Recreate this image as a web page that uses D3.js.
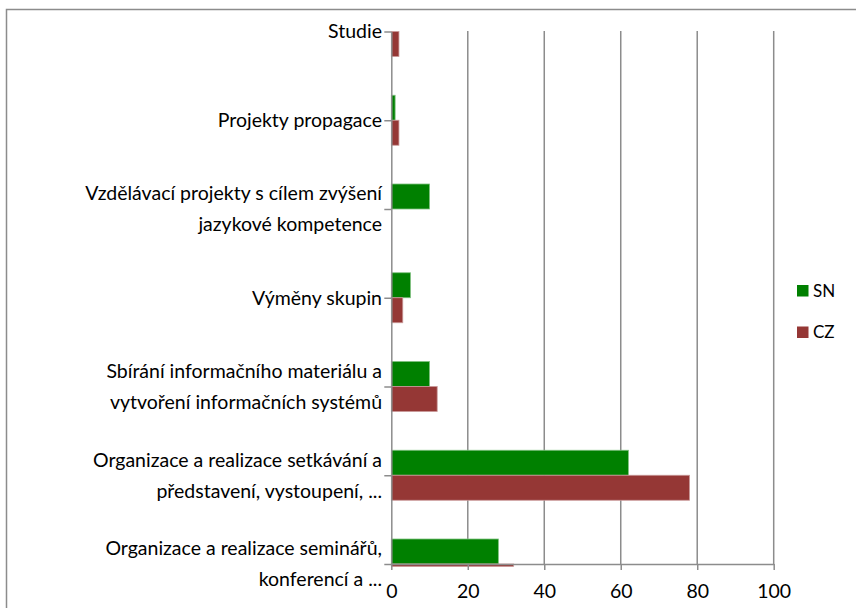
<!DOCTYPE html>
<html>
<head>
<meta charset="utf-8">
<script src="https://cdn.jsdelivr.net/npm/d3@7"></script>
<style>
  html, body { margin: 0; padding: 0; background: #fff; }
  svg { display: block; }
  text { font-family: Lato, "Open Sans", sans-serif; fill: #000; }
</style>
</head>
<body>
<svg id="chart" width="856" height="608"></svg>
<script>
const categories = [
  "Studie",
  "Projekty propagace",
  "Vzdělávací projekty s cílem zvýšení\njazykové kompetence",
  "Výměny skupin",
  "Sbírání informačního materiálu a\nvytvoření informačních systémů",
  "Organizace a realizace setkávání a\npředstavení, vystoupení, ...",
  "Organizace a realizace seminářů,\nkonferencí a ..."
];
const seriesNames = ["SN", "CZ"];
const snValues = [0, 1, 10, 5, 10, 62, 28];
const czValues = [2, 2, 0, 3, 12, 78, 32];
const xTicks = [0, 20, 40, 60, 80, 100];
const colors = ["#008000", "#953735"];
const strokes = ["#7fc07f", "#c99a9a"];

const svg = d3.select("#chart");
const fontSize = 19.5;

// outer frame
svg.append("rect")
  .attr("x", 6.5).attr("y", 9.5)
  .attr("width", 900).attr("height", 700)
  .attr("fill", "none").attr("stroke", "#8c8c8c").attr("stroke-width", 1.5);

const x = d3.scaleLinear().domain([0, 100]).range([391.3, 773.7]);
const y = d3.scalePoint().domain(categories).range([31.5, 564]);
const barH = 25;

// gridlines
svg.append("g").selectAll("line").data(xTicks.slice(1)).join("line")
  .attr("x1", d => x(d)).attr("x2", d => x(d))
  .attr("y1", 31).attr("y2", 564)
  .attr("stroke", "#8c8c8c").attr("stroke-width", 1.5);

// clip for bars
svg.append("clipPath").attr("id", "plotclip").append("rect")
  .attr("x", 380).attr("y", 31).attr("width", 460).attr("height", 535.5);

const series = [snValues, czValues];
const barsG = svg.append("g").attr("clip-path", "url(#plotclip)");
series.forEach((vals, si) => {
  barsG.append("g").selectAll("rect").data(categories.map((c, i) => ({ c, v: vals[i] }))).join("rect")
    .filter(d => d.v > 0)
    .attr("x", x(0))
    .attr("y", d => si === 0 ? y(d.c) - barH : y(d.c))
    .attr("width", d => x(d.v) - x(0))
    .attr("height", barH)
    .attr("fill", colors[si])
    .attr("stroke", strokes[si])
    .attr("stroke-width", 0.8);
});

// x axis
const xAxis = d3.axisBottom(x).tickValues(xTicks).tickSize(6).tickSizeOuter(0);
const gx = svg.append("g").attr("transform", "translate(0,564)").call(xAxis);
gx.select(".domain").attr("stroke", "#8c8c8c").attr("stroke-width", 1.5);
gx.selectAll(".tick line").attr("stroke", "#8c8c8c").attr("stroke-width", 1.5);
gx.selectAll(".tick text").attr("font-size", fontSize).attr("font-family", "Lato, sans-serif")
  .attr("fill", "#000").attr("y", 27.5).attr("dy", "0.35em");

// y axis
const yAxis = d3.axisLeft(y).tickSize(7).tickSizeOuter(0).tickFormat("");
const gy = svg.append("g").attr("transform", `translate(${x(0)},0)`).call(yAxis);
gy.select(".domain").attr("stroke", "#8c8c8c").attr("stroke-width", 1.5);
gy.selectAll(".tick line").attr("stroke", "#8c8c8c").attr("stroke-width", 1.5);

// category labels (multi-line)
const lineH = 31;
const lab = svg.append("g").selectAll("text").data(categories).join("text")
  .attr("text-anchor", "end")
  .attr("font-size", fontSize)
  .attr("x", 382)
  .attr("y", d => y(d));
lab.each(function(d) {
  const lines = d.split("\n");
  const t = d3.select(this);
  const start = -(lines.length - 1) / 2 * lineH;
  lines.forEach((ln, i) => {
    t.append("tspan").attr("x", 382).attr("y", y(d) + start + i * lineH).attr("dy", "0.35em").text(ln);
  });
});

// legend
const leg = svg.append("g").selectAll("g").data(seriesNames).join("g")
  .attr("transform", (d, i) => `translate(797,${285 + i * 41.5})`);
leg.append("rect").attr("width", 11.5).attr("height", 11.5).attr("fill", (d, i) => colors[i]);
leg.append("text").attr("x", 16).attr("y", 6).attr("dy", "0.35em").attr("font-size", 17).text(d => d);
</script>
</body>
</html>
